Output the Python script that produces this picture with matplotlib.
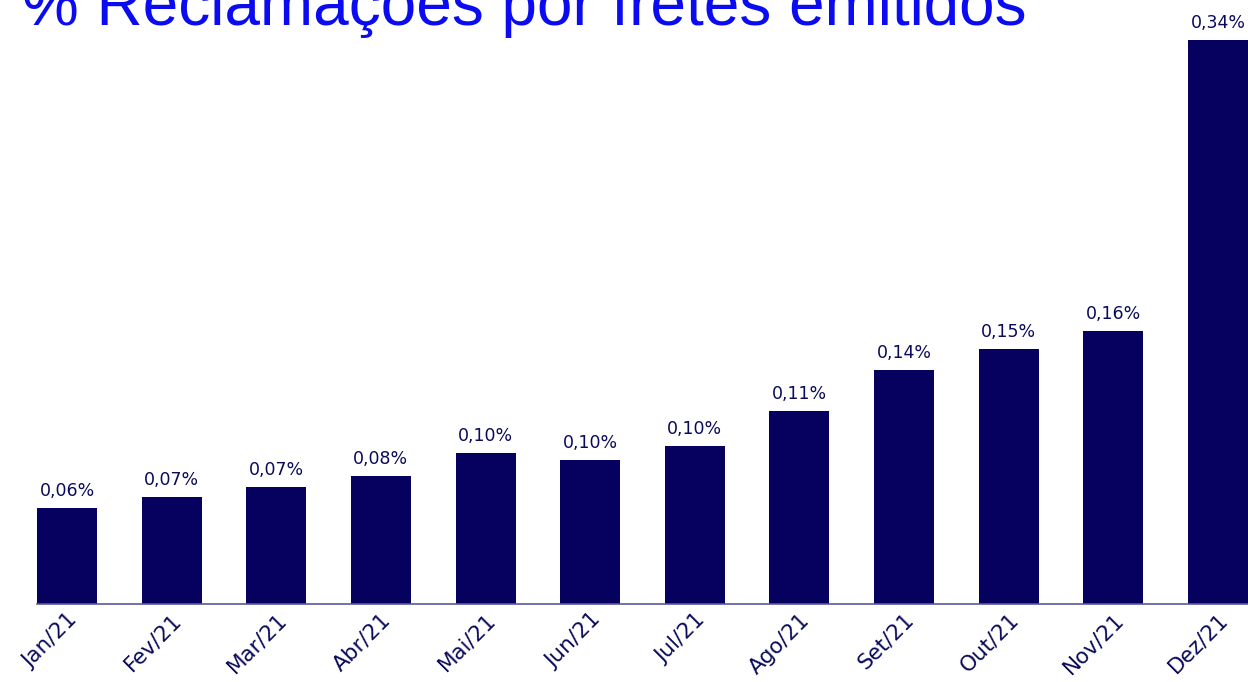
import matplotlib
matplotlib.use('Agg')
import matplotlib.pyplot as plt
import numpy as np

# dados
meses = ['Jan/21', 'Fev/21', 'Mar/21', 'Abr/21', 'Mai/21', 'Jun/21',
         'Jul/21', 'Ago/21', 'Set/21', 'Out/21', 'Nov/21', 'Dez/21']
valores = [0.0579, 0.0645, 0.0705, 0.0772, 0.0910, 0.0868,
           0.0952, 0.1163, 0.1411, 0.1537, 0.1646, 0.3400]
rotulos = ['0,06%', '0,07%', '0,07%', '0,08%', '0,10%', '0,10%',
           '0,10%', '0,11%', '0,14%', '0,15%', '0,16%', '0,34%']

cor_barra = '#06005e'
cor_texto = '#0a0a5a'

fig = plt.figure(figsize=(12.48, 6.82), dpi=100)
ax = fig.add_axes([37/1248, 78/682, 1211/1248, 564/682])

x = np.arange(len(meses))
ax.bar(x, valores, width=0.574, color=cor_barra)
for xi, v, r in zip(x, valores, rotulos):
    ax.annotate(r, (xi, v), xytext=(0, 6), textcoords='offset points',
                ha='center', va='bottom', fontsize=12.5, color=cor_texto,
                family='DejaVu Sans', annotation_clip=False)

ax.set_xlim(-0.287, len(meses) - 1 + 0.287)
ax.set_ylim(0, 0.34)
ax.set_xticks(x)
ax.set_xticklabels(meses, rotation=45, ha='right', rotation_mode='anchor',
                   fontsize=15.5, color=cor_texto, family='DejaVu Sans')
ax.tick_params(axis='x', length=0, pad=4)
ax.set_yticks([])
for s in ['top', 'right', 'left']:
    ax.spines[s].set_visible(False)
ax.spines['bottom'].set_color('#5a5a9a')
ax.spines['bottom'].set_linewidth(1.2)

fig.text(22/1248, 1 - 25/682, '% Reclamações por fretes emitidos',
         fontsize=46, color='#0b0bf2', family='Liberation Sans',
         ha='left', va='baseline')

fig.savefig('out.png', dpi=100)
